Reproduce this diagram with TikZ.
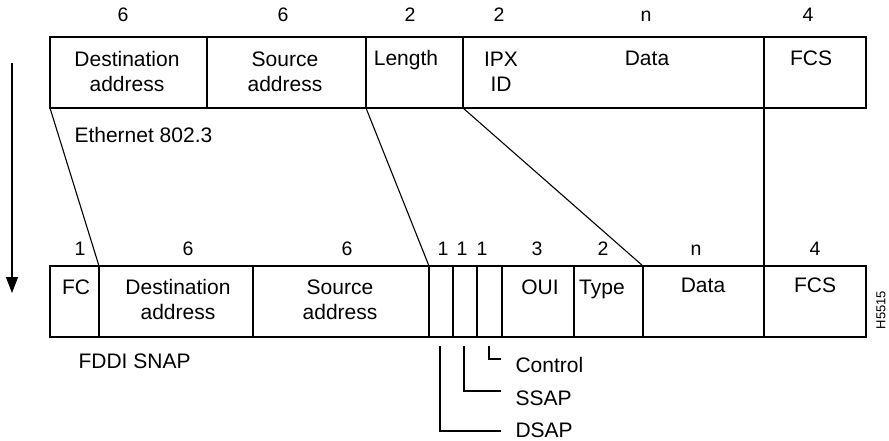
\documentclass[tikz,border=0pt]{standalone}
\usepackage{fontspec}
\setmainfont{Liberation Sans}
\usetikzlibrary{arrows.meta}
\begin{document}
\begin{tikzpicture}[x=1pt,y=-1pt,line width=1.1pt,
fld/.style={font=\fontsize{21}{25}\selectfont,align=center,anchor=base,inner sep=0pt},
num/.style={font=\fontsize{19.5}{22}\selectfont,anchor=base,inner sep=0pt}]
\useasboundingbox(0,0)rectangle(889,440);
\pgfmathsetmacro{\ety}{37}
\pgfmathsetmacro{\eby}{108}
\pgfmathsetmacro{\fty}{266}
\pgfmathsetmacro{\fby}{337}
\draw(50,\ety)rectangle(866,\eby);
\foreach \x/\n in {50/e0,207/e1,366/e2,463/e3,764/e4,866/e5}{\draw(\x,\ety)--(\x,\eby)coordinate(\n);}
\draw(50,\fty)rectangle(866,\fby);
\foreach \x/\n in {50/f0,99/f1,253/f2,429/f3,453/f4,477/f5,502/f6,574/f7,643/f8,764/f9,866/f10}{\draw(\x,\fby)--(\x,\fty)coordinate(\n);}
\draw(e0)--(f1);
\draw(e2)--(f3);
\draw(e3)--(f8);
\draw(e4)--(f9);
\foreach \x/\t in {123/6,283/6,410/2,499/2,646/n,808/4}{\node[num](en\x)at(\x,21){\t};}
\foreach \x/\t in {80/1,188/6,347/6,443/1,462/1,482/1,537/3,603/2,696/n,815/4}{\node[num](fn\x)at(\x,255){\t};}
\foreach \x/\y/\t in {127/91/{Destination\\address},285/91/{Source\\address},406/65/Length,501/91/{IPX\\ID},647/65/Data,811/65/FCS}{\node[fld](et\x)at(\x,\y){\t};}
\foreach \x/\y/\t in {76/294/FC,178/319/{Destination\\address},340/319/{Source\\address},540/294/OUI,602/294/Type,703/292/Data,815/292/FCS}{\node[fld](ft\x)at(\x,\y){\t};}
\node[fld,anchor=base west](eth)at(74,142){Ethernet 802.3};
\node[fld,anchor=base west](fddi)at(78,368){FDDI SNAP};
\foreach \x/\y/\b/\t/\n in {489/359/372/Control/ctl,464/391/405/SSAP/ssap,440/431/437/DSAP/dsap}{
\coordinate(\n a)at(\x,346);
\coordinate(\n b)at(501,\y);
\draw(\n a)|-(\n b);
\node[fld,anchor=base west](\n)at(515,\b){\t};}
\coordinate(dir0)at(12,63);
\coordinate(dir1)at(12,293);
\draw[-{Triangle[width=12pt,length=16pt]}](dir0)--(dir1);
\node[rotate=90,font=\fontsize{13}{15}\selectfont,inner sep=0pt](fig)at(881,310){H5515};
\end{tikzpicture}
\end{document}
